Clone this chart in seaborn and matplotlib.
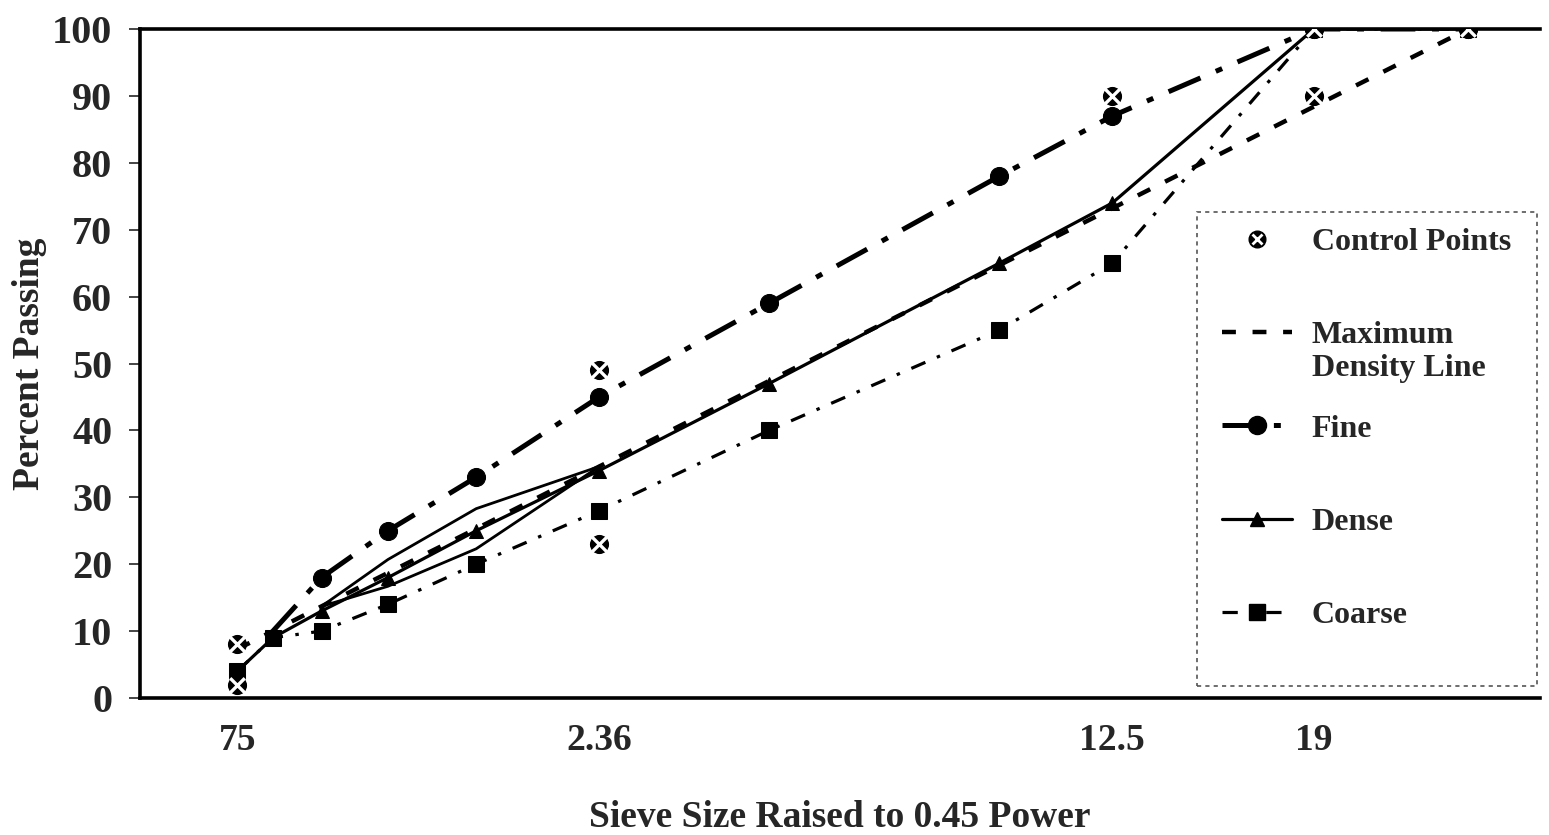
import numpy as np
import pandas as pd
import matplotlib
matplotlib.use("Agg")
import matplotlib.pyplot as plt
import seaborn as sns
from matplotlib.lines import Line2D
from matplotlib.legend_handler import HandlerTuple
from matplotlib.patches import Rectangle

# ---------------- data ----------------
sieve_mm = [0.075, 0.15, 0.3, 0.6, 1.18, 2.36, 4.75, 9.5, 12.5, 19, 25]
max_density = [7.3, 10.0, 13.7, 18.7, 25.3, 34.6, 47.4, 64.7, 73.2, 88.4, 100]

fine_sieve = [0.15, 0.3, 0.6, 1.18, 2.36, 4.75, 9.5, 12.5, 19, 25]
fine = [10, 18, 25, 33, 45, 59, 78, 87, 100, 100]

dense = [4, 9, 13, 18, 25, 34, 47, 65, 74, 100, 100]
coarse = [4, 9, 10, 14, 20, 28, 40, 55, 65, 100, 100]

rz_sieve = [0.3, 0.6, 1.18, 2.36]
rz_upper = [13.7, 20.7, 28.3, 34.6]
rz_lower = [13.7, 16.7, 22.3, 34.6]

ctrl_sieve = [0.075, 0.075, 2.36, 2.36, 12.5, 19, 19, 25]
ctrl_pass = [2, 8, 23, 49, 90, 90, 100, 100]

xtick_vals = [0.075, 2.36, 12.5, 19]
xtick_labels = ["75", "2.36", "12.5", "19"]
ytick_vals = list(range(0, 101, 10))

legend_labels = ["Control Points", "Maximum", "Fine", "Dense", "Coarse"]
legend_extra = "Density Line"

# ---------------- style ----------------
sns.set_style("white")
plt.rcParams["font.family"] = ["Liberation Serif", "DejaVu Serif"]
plt.rcParams["font.weight"] = "bold"
plt.rcParams["lines.scale_dashes"] = False

FINE_DASH = [25, 12, 5, 12]
COARSE_DASH = [11, 9, 2.5, 9]
MAX_DASH = [10, 12]

fig = plt.figure(figsize=(15.49, 8.35), dpi=100)
ax = fig.add_axes([140 / 1549, 1 - 698 / 835, 1400 / 1549, 669 / 835])

P = 0.45
ax.set_xscale("function",
              functions=(lambda v: np.power(np.clip(v, 0, None), P),
                         lambda v: np.power(np.clip(v, 0, None), 1 / P)))

# maximum density line
sns.lineplot(x=sieve_mm, y=max_density, ax=ax, color="black", linewidth=3.2,
             sort=False, estimator=None)
ax.lines[-1].set_dashes(MAX_DASH)

# restricted zone (thin solid lines)
sns.lineplot(x=rz_sieve, y=rz_upper, ax=ax, color="black", linewidth=2.0,
             sort=False, estimator=None)
sns.lineplot(x=rz_sieve, y=rz_lower, ax=ax, color="black", linewidth=2.0,
             sort=False, estimator=None)

# fine
sns.lineplot(x=fine_sieve, y=fine, ax=ax, color="black", linewidth=3.6,
             marker="o", markersize=13, markeredgecolor="black",
             markevery=list(range(1, len(fine))), sort=False, estimator=None)
ax.lines[-1].set_dashes(FINE_DASH)

# dense
sns.lineplot(x=sieve_mm, y=dense, ax=ax, color="black", linewidth=2.3,
             marker="^", markersize=10, markeredgecolor="black",
             sort=False, estimator=None)

# coarse
sns.lineplot(x=sieve_mm, y=coarse, ax=ax, color="black", linewidth=2.3,
             marker="s", markersize=12, markeredgecolor="black",
             sort=False, estimator=None)
ax.lines[-1].set_dashes(COARSE_DASH)

# control points: black circle with white cross
sns.scatterplot(x=ctrl_sieve, y=ctrl_pass, ax=ax, color="black", marker="o",
                s=190, edgecolor="black", linewidth=0, zorder=5)
sns.scatterplot(x=ctrl_sieve, y=ctrl_pass, ax=ax, color="white", marker="x",
                s=110, linewidth=2.4, zorder=6)

# ---------------- axes ----------------
ax.set_xlim(0, 28.1)
ax.set_ylim(0, 100)
ax.set_xticks(xtick_vals)
ax.set_xticklabels(xtick_labels)
ax.set_yticks(ytick_vals)
ax.minorticks_off()
ax.tick_params(axis="x", length=0, pad=18, labelsize=27)
ax.tick_params(axis="y", length=8, width=1.2, direction="out", pad=12,
               labelsize=29, left=True)
for lab in ax.get_xticklabels() + ax.get_yticklabels():
    lab.set_fontweight("bold")

for side in ["left", "bottom", "top"]:
    ax.spines[side].set_visible(True)
    ax.spines[side].set_color("black")
    ax.spines[side].set_linewidth(2.6)
ax.spines["right"].set_visible(False)

ax.set_xlabel("Sieve Size Raised to 0.45 Power", fontsize=27, fontweight="bold")
ax.set_ylabel("Percent Passing", fontsize=27, fontweight="bold")
ax.xaxis.set_label_coords(0.5, (698 - 800) / 669)
ax.yaxis.set_label_coords((47 - 140) / 1400, 0.5)

# ---------------- legend ----------------
h_ctrl = (Line2D([], [], color="black", marker="o", markersize=12,
                 markerfacecolor="black", markeredgecolor="black", linestyle="none"),
          Line2D([], [], color="white", marker="x", markersize=7,
                 markeredgecolor="white", markeredgewidth=2.0, linestyle="none"))
h_max = Line2D([], [], color="black", linewidth=3.2, dashes=MAX_DASH)
h_fine = Line2D([], [], color="black", linewidth=3.6, marker="o", markersize=13,
                dashes=FINE_DASH)
h_dense = Line2D([], [], color="black", linewidth=2.3, marker="^", markersize=10)
h_coarse = Line2D([], [], color="black", linewidth=2.3, marker="s", markersize=12,
                  dashes=COARSE_DASH)

leg = ax.legend([h_ctrl, h_max, h_fine, h_dense, h_coarse], legend_labels,
                handler_map={tuple: HandlerTuple(ndivide=1, pad=0)},
                loc="upper left", bbox_to_anchor=(0.773, 0.703),
                frameon=False, fontsize=23, handlelength=2.2, handletextpad=0.6,
                labelspacing=2.0, borderpad=0, borderaxespad=0)
for t in leg.get_texts():
    t.set_fontweight("bold")

# second line of the "Maximum Density Line" entry
ax.annotate(legend_extra, xy=(0, 0), xycoords=leg.get_texts()[1],
            xytext=(0, -3), textcoords="offset points", ha="left", va="top",
            fontsize=23, fontweight="bold", zorder=20)

frame = Rectangle((0.755, 0.018), 0.243, 0.708, transform=ax.transAxes,
                  fill=False, edgecolor="#555555", linewidth=1.2,
                  linestyle=(0, (3, 3)), zorder=10, clip_on=False)
ax.add_patch(frame)

fig.savefig("out.png", dpi=100)
